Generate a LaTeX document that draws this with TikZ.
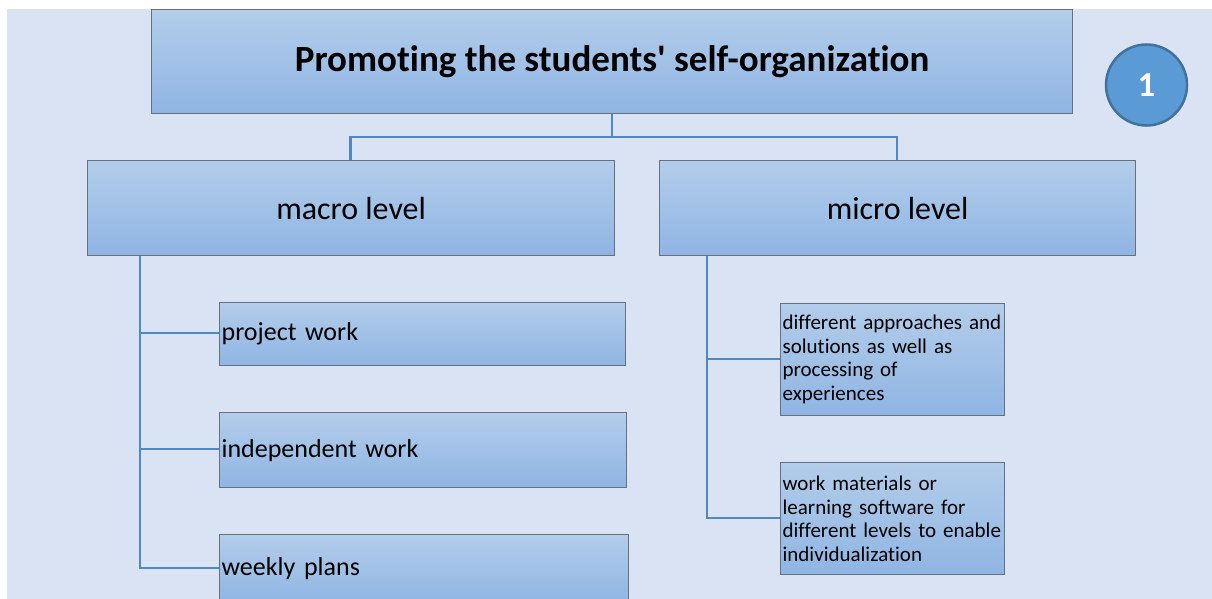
\documentclass[tikz,border=0pt]{standalone}
\usepackage{fontspec}
\setmainfont{Carlito}[Ligatures={NoCommon}]
\definecolor{bgc}{HTML}{DAE3F3}
\definecolor{boxtop}{HTML}{B3CDEA}
\definecolor{boxbot}{HTML}{8FB5E3}
\definecolor{boxline}{HTML}{66717F}
\definecolor{conn}{HTML}{4F87C7}
\definecolor{circfill}{HTML}{5B9BD5}
\definecolor{circline}{HTML}{41719C}
\tikzset{
  box/.style={draw=boxline, line width=1.2pt, top color=boxtop, bottom color=boxbot,
    rectangle, inner sep=0pt, anchor=north west},
  lbox/.style={box, inner xsep=2pt, align=left},
  link/.style={draw=conn, line width=2.8pt},
}
\begin{document}
\begin{tikzpicture}[x=1pt,y=-1pt]
\clip (0,0) rectangle (1212,599);
\useasboundingbox (0,0) rectangle (1212,599);
\fill[white] (0,0) rectangle (1212,599);
\fill[bgc] (7,9) rectangle (1212,599);

% connectors
\draw[link] (612,112) coordinate (tb) -- (612,137) coordinate (tj);
\draw[link] (tj) -| (350.5,160) coordinate (mt);
\draw[link] (tj) -| (897,160) coordinate (nt);
\draw[link] (140,255) coordinate (mv) |- (219,333) coordinate (pwl);
\draw[link] (mv) |- (219,449) coordinate (iwl);
\draw[link] (mv) |- (219,568) coordinate (wpl);
\draw[link] (707,255) coordinate (nv) |- (780,359) coordinate (m1l);
\draw[link] (nv) |- (780,518) coordinate (m2l);

% title
\node[box, minimum width=921pt, minimum height=104pt, font=\bfseries\fontsize{37}{44}\selectfont] (title) at (151,9) {Promoting the students\textquotesingle\ self-organization};

\node[circle, fill=circfill, draw=circline, line width=2.5pt, minimum size=81pt, inner sep=0pt,
  text=white, font=\bfseries\fontsize{35}{42}\selectfont] (num) at (1146.5,85) {1};

% level boxes
\node[box, minimum width=527pt, minimum height=95pt, font=\fontsize{32}{38}\selectfont] (macro) at (87,160) {macro level};
\node[box, minimum width=476pt, minimum height=95pt, font=\fontsize{32}{38}\selectfont] (micro) at (659,160) {micro level};

% macro items
\node[lbox, text width=402pt, minimum height=63pt, font=\fontsize{26}{31}\selectfont] (pw) at (219,302) {project work};
\node[lbox, text width=403pt, minimum height=75pt, font=\fontsize{26}{31}\selectfont] (iw) at (219,412) {independent work};
\node[lbox, text width=405pt, minimum height=68pt, font=\fontsize{26}{31}\selectfont] (wp) at (219,534) {weekly plans};

% micro items
\node[lbox, text width=220pt, minimum height=112pt, font=\fontsize{21}{23.5}\selectfont] (m1) at (780,303) {different approaches and\\solutions as well as\\processing of\\experiences};
\node[lbox, text width=220pt, minimum height=112pt, font=\fontsize{21}{23.5}\selectfont] (m2) at (780,462) {work materials or\\learning software for\\different levels to enable\\individualization};
\end{tikzpicture}
\end{document}
